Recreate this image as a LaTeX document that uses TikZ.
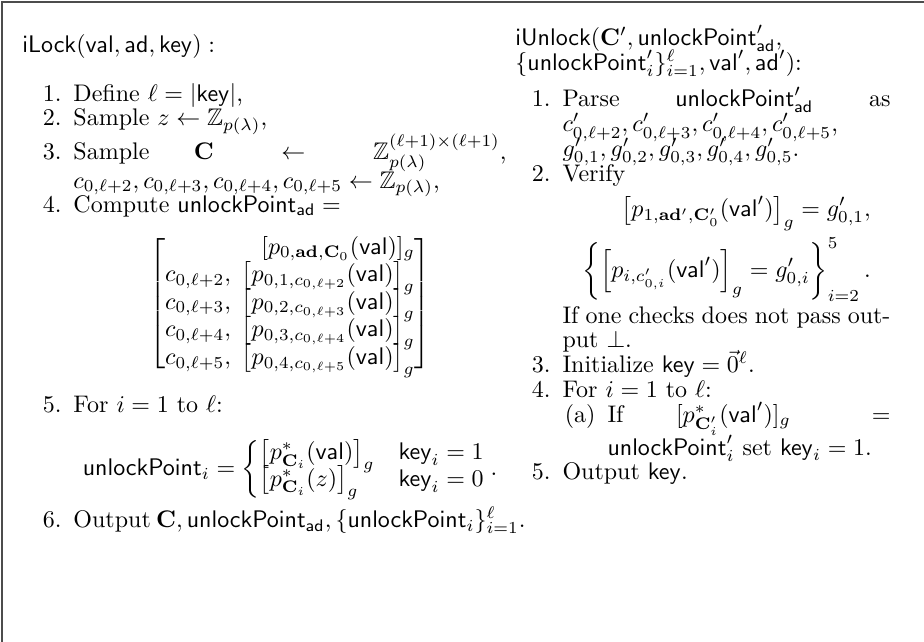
\documentclass[tikz,border=0pt]{standalone}
\usepackage{amsmath,amssymb,mathtools}
\usepackage{enumitem}
\usetikzlibrary{positioning}

\newcommand{\mval}{\mathsf{val}}
\newcommand{\mad}{\mathsf{ad}}
\newcommand{\mkey}{\mathsf{key}}
\newcommand{\mUP}{\mathsf{unlockPoint}}
\newcommand{\Cm}{\mathbf{C}}
\newcommand{\tightlines}{\lineskiplimit=-1.5pt\relax\lineskip=0pt\relax}

\begin{document}
\begin{tikzpicture}[x=0.41667pt,y=-0.41667pt,
	col/.style={inner sep=0pt,anchor=north west,align=justify}]
	\useasboundingbox (0,0) rectangle (924,642);
	%
	\coordinate (bl) at (2,642);
	\coordinate (tl) at (2,2);
	\coordinate (tr) at (924,2);
	\draw[line width=0.8pt,black!70] (bl) -- (tl) -- (tr);
	%
	\node[col,text width=201.7pt,font=\fontsize{10}{10}\selectfont] (lock) at (22,34) {\tightlines
		$\mathsf{iLock}(\mval,\mad,\mkey) :$
		\begin{enumerate}[leftmargin=21.25pt,topsep=10.5pt,partopsep=0pt,itemsep=0pt,parsep=0pt]
			\item Define $\ell = |\mkey|$,
			\item Sample $z \leftarrow \mathbb{Z}_{p(\lambda)}$,
			\item Sample $\Cm \leftarrow \mathbb{Z}_{p(\lambda)}^{(\ell+1)\times(\ell+1)}$, $c_{0,\ell+2}, c_{0,\ell+3}, c_{0,\ell+4}, c_{0,\ell+5} \leftarrow \mathbb{Z}_{p(\lambda)}$,
			\item Compute $\mUP_{\mad} =$
			\abovedisplayskip=8pt \belowdisplayskip=10pt
			\[
			\begin{bmatrix*}[r]
				[p_{0,\mathbf{ad},\Cm_0}(\mval)]_g \\
				c_{0,\ell+2},\; \smash[b]{\bigl[p_{0,1,c_{0,\ell+2}}(\mval)\bigr]_g} \\
				c_{0,\ell+3},\; \smash[b]{\bigl[p_{0,2,c_{0,\ell+3}}(\mval)\bigr]_g} \\
				c_{0,\ell+4},\; \smash[b]{\bigl[p_{0,3,c_{0,\ell+4}}(\mval)\bigr]_g} \\
				c_{0,\ell+5},\; \smash[b]{\bigl[p_{0,4,c_{0,\ell+5}}(\mval)\bigr]_g}
			\end{bmatrix*}
			\]
			\item For $i = 1$ to $\ell$:
			\abovedisplayskip=11pt \belowdisplayskip=3pt
			\abovedisplayshortskip=11pt \belowdisplayshortskip=3pt
			\[
			\mUP_i = \begin{cases}
				\left[p^*_{\Cm_i}(\mval)\right]_g & \mkey_i = 1\\[-3pt]
				\left[p^*_{\Cm_i}(z)\right]_g & \mkey_i = 0
			\end{cases}.
			\]
			\item Output $\Cm, \mUP_{\mad}, \{\mUP_i\}_{i=1}^{\ell}$.
		\end{enumerate}};
	%
	\node[col,text width=156.25pt,font=\fontsize{10}{10.3}\selectfont] (unlock) at (515,25) {\tightlines
		$\mathsf{iUnlock}(\Cm', \mUP'_{\mad},$\newline
		$\{\mUP'_i\}_{i=1}^{\ell}, \mval', \mad')$:
		\begin{enumerate}[leftmargin=19.6pt,topsep=5pt,partopsep=0pt,itemsep=0pt,parsep=0pt]
			\item Parse $\mUP'_{\mad}$ as $c'_{0,\ell+2}, c'_{0,\ell+3}, c'_{0,\ell+4}, c'_{0,\ell+5}$, $g'_{0,1}, g'_{0,2}, g'_{0,3}, g'_{0,4}, g'_{0,5}$.
			\item Verify
			\abovedisplayskip=3pt \belowdisplayskip=2pt
			\begin{align*}
				\left[p_{1,\mathbf{ad}',\Cm'_0}(\mval')\right]_g = g'_{0,1},\\
				\left\{\left[p_{i,c'_{0,i}}(\mval')\right]_g = g'_{0,i}\right\}_{i=2}^{5}.
			\end{align*}
			If one checks does not pass output $\bot$.
			\item Initialize $\mkey = \vec{0}^{\ell}$.
			\item For $i = 1$ to $\ell$:
			\begin{enumerate}[label=(\alph*),leftmargin=18.75pt,topsep=0pt,partopsep=0pt,itemsep=0pt,parsep=0pt]
				\item If $[p^*_{\Cm'_i}(\mval')]_g = \mUP'_i$ set $\mkey_i = 1$.
			\end{enumerate}
			\item Output $\mkey$.
		\end{enumerate}};
\end{tikzpicture}
\end{document}
